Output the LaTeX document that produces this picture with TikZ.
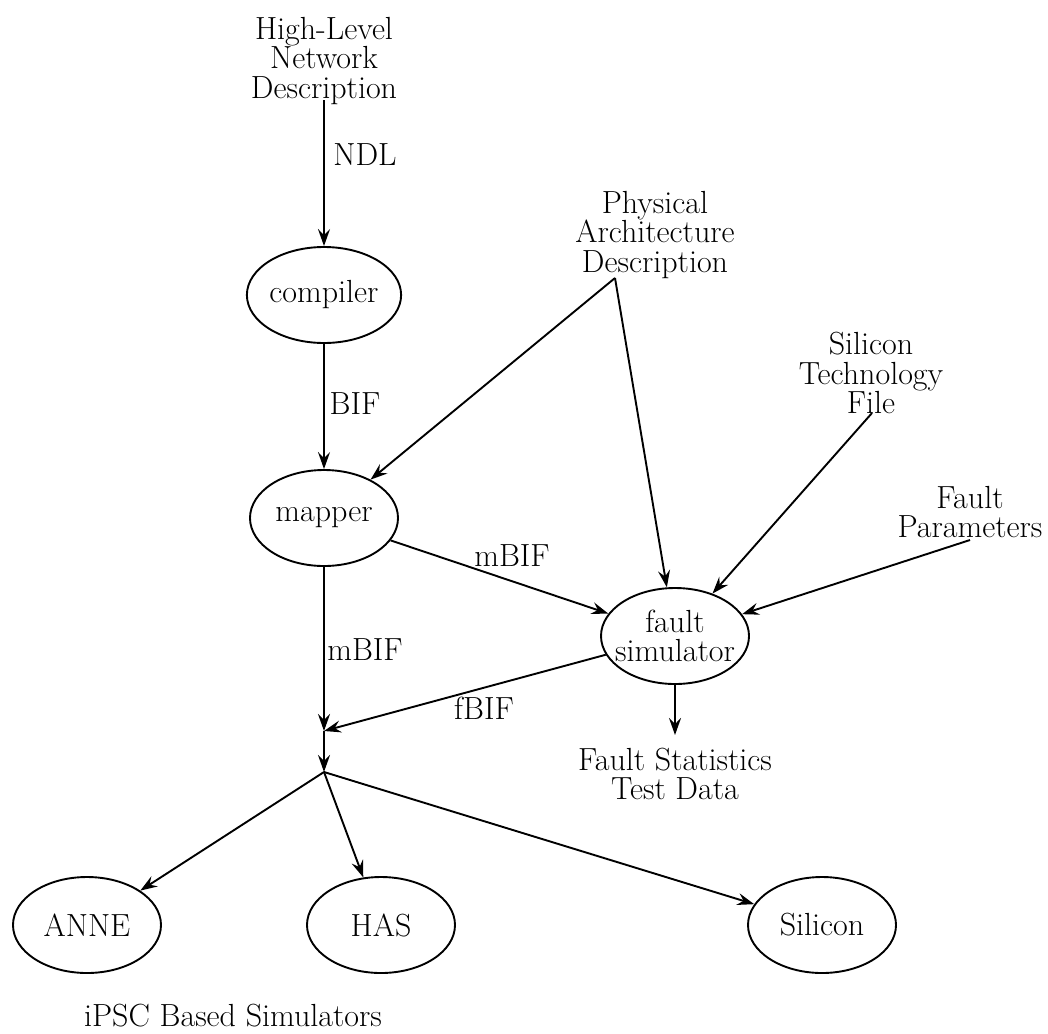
\documentclass[tikz,border=0pt]{standalone}
\usetikzlibrary{shapes.geometric,arrows.meta}
\begin{document}
\begin{tikzpicture}[x=1pt,y=-1pt,
  every node/.style={font=\fontsize{32}{29.5}\selectfont, inner sep=0pt},
  proc/.style={ellipse, draw, line width=1.9pt, minimum width=148pt, minimum height=96pt, align=center},
  txt/.style={align=center},
  lbl/.style={anchor=center},
  flow/.style={line width=1.9pt, -{Stealth[length=17pt,width=12pt,inset=6pt]}}]
\useasboundingbox (0,0) rectangle (1048,1033);

% nodes
\node[txt] (hl) at (324,61) {High-Level\\Network\\Description};
\coordinate (hla) at (324,100);
\node[proc] (compiler) at (324,295) {compiler};
\node[proc] (mapper) at (324,518) {mapper};
\node[proc, inner xsep=-8pt] (fault) at (675,636) {fault\\simulator};
\node[txt] (pad) at (655,235) {Physical\\Architecture\\Description};
\coordinate (pa) at (615,278);
\node[txt] (stf) at (871,373) {Silicon\\Technology\\File};
\coordinate (st) at (872,413);
\node[txt] (fpar) at (970,512) {Fault\\Parameters};
\coordinate (fp) at (970,540);
\node[txt] (fs) at (675,774) {Fault Statistics\\Test Data};
\coordinate (fsa) at (675,735);
\coordinate (j1) at (324,731);
\coordinate (j2) at (324,772);
\node[proc] (anne) at (87,925) {ANNE};
\node[proc] (has) at (381,925) {HAS};
\node[proc] (silicon) at (822,925) {Silicon};
\node[txt] (ipsc) at (233,1016) {iPSC Based Simulators};

% connectors
\draw[flow] (hla) -- (compiler);
\node[lbl] (ndl) at (365,155) {NDL};
\draw[flow] (compiler) -- (mapper);
\node[lbl] (bif) at (355,404) {BIF};
\draw[flow] (pa) -- (mapper);
\draw[flow] (pa) -- (fault);
\draw[flow] (st) -- (fault);
\draw[flow] (fp) -- (fault);
\draw[flow] (mapper) -- (fault);
\node[lbl] (mbif1) at (512,556) {mBIF};
\draw[flow] (mapper) -- (j1);
\node[lbl] (mbif2) at (365,650) {mBIF};
\draw[flow] (fault) -- (j1);
\node[lbl] (fbif) at (484,708) {fBIF};
\draw[flow] (fault) -- (fsa);
\draw[flow] (j1) -- (j2);
\draw[flow] (j2) -- (anne);
\draw[flow] (j2) -- (has);
\draw[flow] (j2) -- (silicon);
\end{tikzpicture}
\end{document}
